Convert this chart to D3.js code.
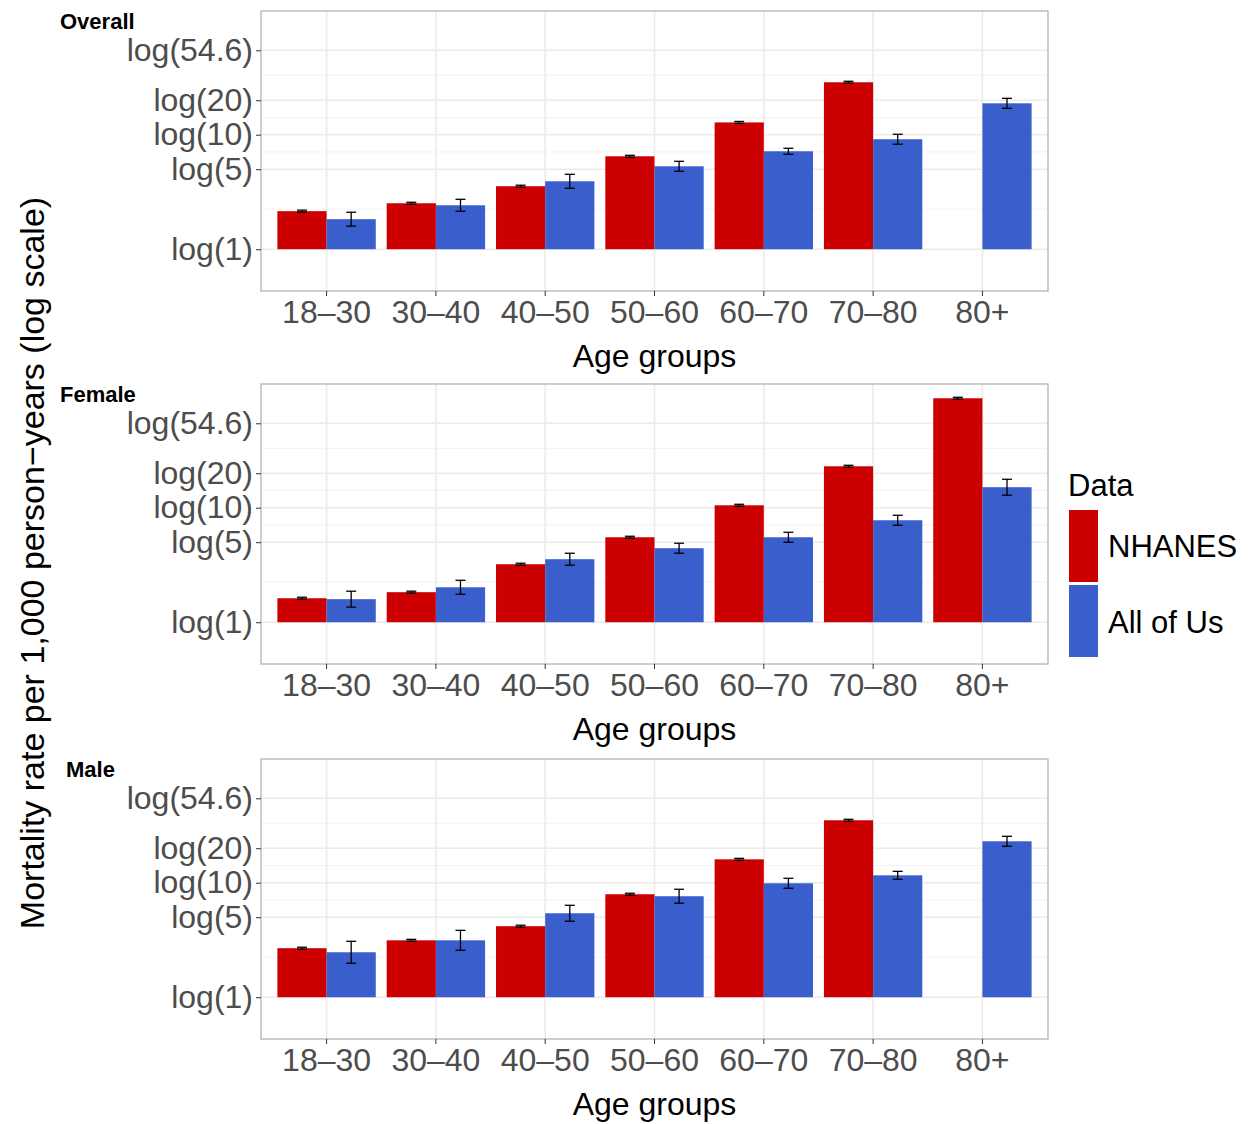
<!DOCTYPE html><html><head><meta charset="utf-8"><script src="https://cdn.jsdelivr.net/npm/d3@7"></script>
<style>body{margin:0;background:#fff}text{font-family:"Liberation Sans",Arial,sans-serif}</style></head><body>
<svg id="c" width="1252" height="1124"></svg>
<script>
const categories=["18\u201330","30\u201340","40\u201350","50\u201360","60\u201370","70\u201380","80+"];
const panels=["Overall","Female","Male"];
const nhanesOverall=[2.15,2.52,3.55,6.48,12.8,28.7,null];
const aouOverall=[1.83,2.42,3.92,5.30,7.17,9.13,18.8];
const aouErrOverall=[0.14,0.12,0.14,0.10,0.06,0.10,0.10];
const nhanesFemale=[1.62,1.83,3.21,5.52,10.5,23.0,90.3];
const aouFemale=[1.59,2.02,3.55,4.43,5.52,7.77,15.1];
const aouErrFemale=[0.16,0.14,0.12,0.10,0.10,0.10,0.16];
const nhanesMale=[2.68,3.14,4.17,7.93,16.0,35.1,null];
const aouMale=[2.47,3.14,5.41,7.62,9.89,11.6,23.0];
const aouErrMale=[0.22,0.20,0.16,0.14,0.10,0.08,0.10];
const nhanesErr=0.02;
const tickVals=[1,5,10,20,54.6];
const tickLabels=["log(1)","log(5)","log(10)","log(20)","log(54.6)"];
const series=[[nhanesOverall,aouOverall,aouErrOverall],[nhanesFemale,aouFemale,aouErrFemale],[nhanesMale,aouMale,aouErrMale]];
const RED="#CC0000",BLUE="#3A5FCD";
const svg=d3.select("#c");
const L=261,R=1048,tops=[11,384,759],H=280;
const x=d3.scaleBand().domain(categories).range([L,R]).paddingInner(0.1).paddingOuter(0.15);
const sub=d3.scaleBand().domain([0,1]).range([0,x.bandwidth()]);
panels.forEach((p,pi)=>{
  const t=tops[pi];
  const y=d3.scaleLinear().domain([-0.84,4.79]).range([t+H,t]);
  const g=svg.append("g");
  const major=tickVals.map(Math.log);
  const minor=[];
  for(let i=0;i<major.length-1;i++)minor.push((major[i]+major[i+1])/2);
  minor.forEach(v=>g.append("line").attr("x1",L).attr("x2",R).attr("y1",y(v)).attr("y2",y(v)).attr("stroke","#f2f2f2").attr("stroke-width",1));
  major.forEach(v=>g.append("line").attr("x1",L).attr("x2",R).attr("y1",y(v)).attr("y2",y(v)).attr("stroke","#ebebeb").attr("stroke-width",1.6));
  categories.forEach(c=>g.append("line").attr("x1",x(c)+x.bandwidth()/2).attr("x2",x(c)+x.bandwidth()/2).attr("y1",t).attr("y2",t+H).attr("stroke","#ebebeb").attr("stroke-width",1.6));
  const [nh,ao,ae]=series[pi];
  categories.forEach((c,i)=>{
    [[nh[i],RED,nhanesErr,0],[ao[i],BLUE,ae[i],1]].forEach(([v,col,e,k])=>{
      if(v==null)return;
      const lv=Math.log(v);
      const bx=x(c)+sub(k);
      g.append("rect").attr("x",bx).attr("width",sub.bandwidth()).attr("y",y(lv)).attr("height",y(0)-y(lv)).attr("fill",col);
      const cx=bx+sub.bandwidth()/2;
      g.append("line").attr("x1",cx).attr("x2",cx).attr("y1",y(lv-e)).attr("y2",y(lv+e)).attr("stroke","#000").attr("stroke-width",1.3);
      [lv-e,lv+e].forEach(ev=>g.append("line").attr("x1",cx-5).attr("x2",cx+5).attr("y1",y(ev)).attr("y2",y(ev)).attr("stroke","#000").attr("stroke-width",1.3));
    });
  });
  g.append("rect").attr("x",L).attr("y",t).attr("width",R-L).attr("height",H).attr("fill","none").attr("stroke","#b3b3b3").attr("stroke-width",1.3);
  const ya=g.append("g").attr("transform",`translate(${L},0)`).call(d3.axisLeft(y).tickValues(major).tickFormat((d,i)=>tickLabels[i]).tickSize(5).tickPadding(3));
  const xa=g.append("g").attr("transform",`translate(0,${t+H})`).call(d3.axisBottom(x).tickSize(5).tickPadding(4));
  [ya,xa].forEach(a=>{a.select(".domain").remove();a.selectAll("line").attr("stroke","#333");a.selectAll("text").attr("fill","#4d4d4d").style("font-size","32px");});
  g.append("text").attr("x",(L+R)/2).attr("y",t+H+76).attr("text-anchor","middle").style("font-size","32px").text("Age groups");
  g.append("text").attr("x",pi==2?66:60).attr("y",t+18).style("font-size","22px").style("font-weight","bold").text(p);
});
svg.append("text").attr("transform","translate(44,563) rotate(-90)").attr("text-anchor","middle").style("font-size","34px").text("Mortality rate per 1,000 person\u2212years (log scale)");
const lg=svg.append("g");
lg.append("text").attr("x",1068).attr("y",496).style("font-size","31px").text("Data");
[["NHANES",RED],["All of Us",BLUE]].forEach(([n,c],i)=>{
  lg.append("rect").attr("x",1069).attr("y",510+i*75).attr("width",29).attr("height",72).attr("fill",c);
  lg.append("text").attr("x",1108).attr("y",557+i*76).style("font-size","31px").text(n);
});
</script></body></html>
